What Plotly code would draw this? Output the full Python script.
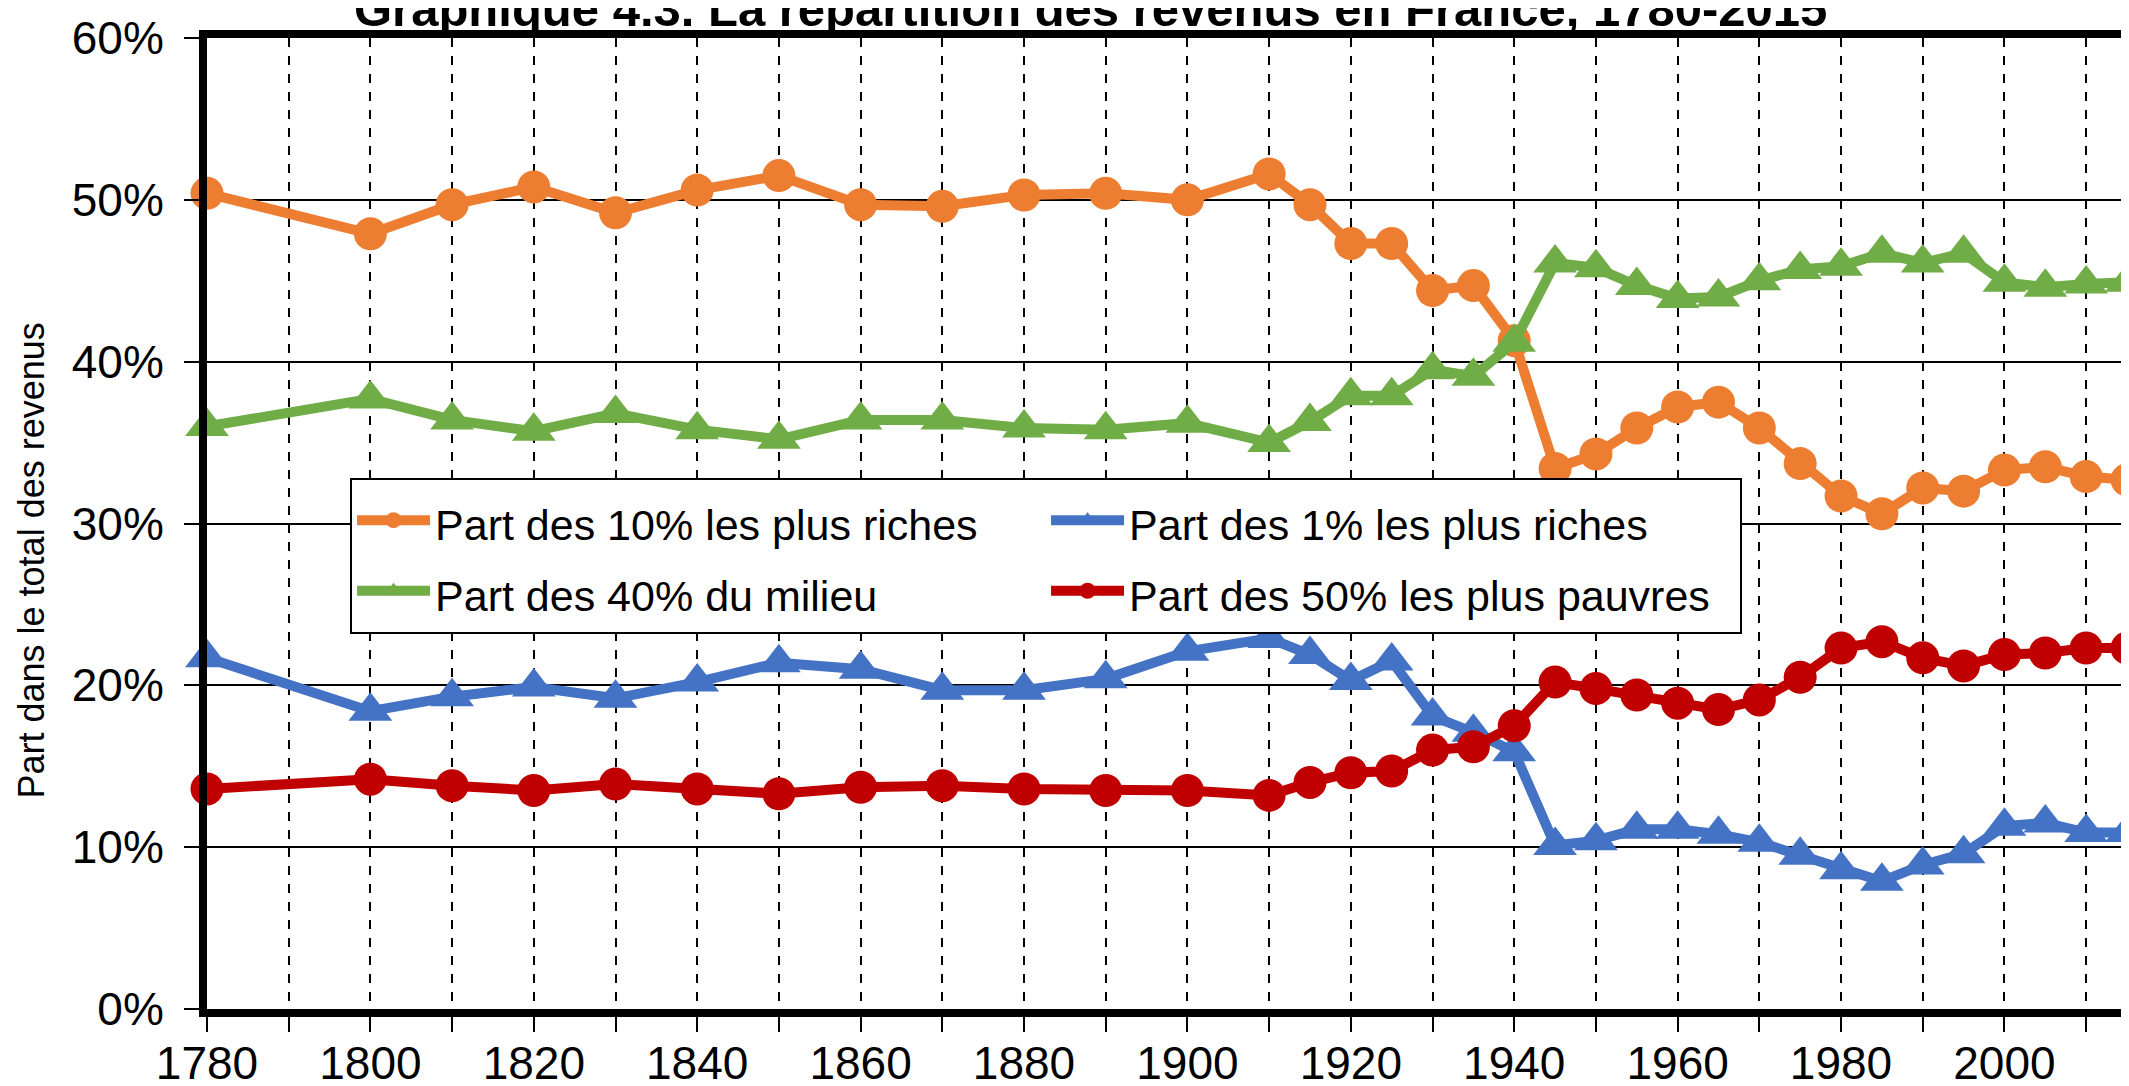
import plotly.graph_objects as go

years = [1780, 1800, 1810, 1820, 1830, 1840, 1850, 1860, 1870, 1880, 1890, 1900, 1910,
         1915, 1920, 1925, 1930, 1935, 1940, 1945, 1950, 1955, 1960, 1965, 1970, 1975,
         1980, 1985, 1990, 1995, 2000, 2005, 2010, 2015]

top10 = [50.4, 47.9, 49.7, 50.8, 49.2, 50.6, 51.5, 49.7, 49.6, 50.3, 50.4, 50.0, 51.6,
         49.7, 47.3, 47.3, 44.4, 44.7, 41.3, 33.4, 34.3, 35.9, 37.2, 37.5, 35.9, 33.7,
         31.7, 30.6, 32.2, 32.0, 33.3, 33.5, 32.9, 32.7]

top1 = [21.7, 18.4, 19.3, 19.9, 19.2, 20.2, 21.4, 21.0, 19.7, 19.7, 20.4, 22.1, 22.9,
        21.9, 20.3, 21.5, 18.1, 17.1, 15.9, 10.1, 10.4, 11.1, 11.1, 10.8, 10.3, 9.5,
        8.6, 7.9, 8.9, 9.6, 11.3, 11.5, 10.9, 10.9]

mid40 = [36.0, 37.7, 36.4, 35.7, 36.8, 35.8, 35.2, 36.4, 36.4, 35.9, 35.8, 36.2, 35.0,
         36.3, 37.9, 37.9, 39.5, 39.1, 41.2, 46.1, 45.8, 44.7, 43.9, 44.0, 45.0, 45.7,
         45.9, 46.7, 46.1, 46.7, 44.9, 44.6, 44.8, 44.9]

bottom50 = [13.6, 14.2, 13.8, 13.5, 13.9, 13.6, 13.3, 13.7, 13.8, 13.6, 13.5, 13.5, 13.2,
            14.0, 14.6, 14.7, 16.0, 16.2, 17.5, 20.2, 19.8, 19.4, 18.9, 18.5, 19.1, 20.5,
            22.3, 22.7, 21.7, 21.2, 21.9, 22.0, 22.3, 22.3]

names = ["Part des 10% les plus riches", "Part des 1% les plus riches",
         "Part des 40% du milieu", "Part des 50% les plus pauvres"]

x_tickvals = list(range(1780, 2011, 10))
x_ticktext = [str(v) if (v - 1780) % 20 == 0 else "" for v in x_tickvals]
y_tickvals = [0, 10, 20, 30, 40, 50, 60]
y_ticktext = ["0%", "10%", "20%", "30%", "40%", "50%", "60%"]

title_text = "Graphique 4.3. La répartition des revenus en France, 1780-2015"
ytitle_text = "Part dans le total des revenus"

FONT = "Liberation Sans, Arial, sans-serif"

fig = go.Figure()
series = [
    (top10, names[0], "#ED7D31", "circle", 33),
    (top1, names[1], "#4472C4", "triangle-up", 38),
    (mid40, names[2], "#70AD47", "triangle-up", 38),
    (bottom50, names[3], "#C00000", "circle", 33),
]
for vals, nm, col, sym, sz in series:
    fig.add_trace(go.Scatter(
        x=years, y=vals, name="<span style='font-size:43px'>" + nm + "</span>",
        mode="lines+markers",
        line=dict(color=col, width=10),
        marker=dict(color=col, symbol=sym, size=sz, line=dict(width=0)),
        cliponaxis=False,
    ))

fig.update_layout(
    width=2129, height=1086,
    margin=dict(l=199, r=10, t=30, b=85, autoexpand=False),
    paper_bgcolor="white", plot_bgcolor="white",
    font=dict(family=FONT, color="black"),
    showlegend=True,
    legend=dict(
        orientation="h", x=0.0745, y=0.547, xanchor="left", yanchor="top",
        bgcolor="white", bordercolor="black", borderwidth=2,
        font=dict(size=52, family=FONT, color="black"),
        itemwidth=73, entrywidthmode="pixels", entrywidth=606,
        traceorder="normal",
    ),
    annotations=[
        dict(text="<b>" + title_text + "</b>", xref="paper", yref="paper",
             x=0.4604, y=1.030, xanchor="center", yanchor="middle",
             showarrow=False, font=dict(size=49, family=FONT, color="black")),
        dict(text=ytitle_text, xref="paper", yref="paper",
             x=-0.0916, y=0.462, xanchor="center", yanchor="middle",
             textangle=-90, showarrow=False,
             font=dict(size=36, family=FONT, color="black")),
    ],
)

fig.update_xaxes(
    range=[1780, 2015], tickvals=x_tickvals, ticktext=x_ticktext,
    showgrid=True, gridcolor="black", gridwidth=1.5, griddash="dash",
    showline=True, linecolor="black", linewidth=8, mirror=True,
    ticks="outside", ticklen=15, tickwidth=1.5, tickcolor="black",
    ticklabelstandoff=-8, automargin=False,
    tickfont=dict(size=46, family=FONT, color="black"),
    zeroline=False,
)
fig.update_yaxes(
    range=[0, 60], tickvals=y_tickvals, ticktext=y_ticktext,
    showgrid=True, gridcolor="black", gridwidth=1.5,
    showline=True, linecolor="black", linewidth=8, mirror=False,
    ticks="outside", ticklen=15, tickwidth=1.5, tickcolor="black",
    ticklabelstandoff=11, automargin=False,
    tickfont=dict(size=46, family=FONT, color="black"),
    zeroline=False,
)

fig.add_shape(type="line", xref="paper", yref="paper", x0=1, x1=1, y0=0, y1=1,
              line=dict(color="black", width=3))

fig.write_html("out.html")
